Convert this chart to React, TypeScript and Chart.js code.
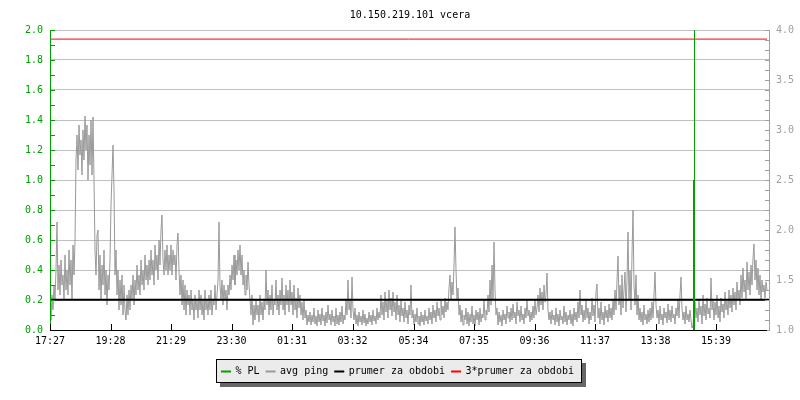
import React, { useEffect, useRef } from 'react';
import { Chart, registerables } from 'chart.js';

Chart.register(...registerables);

const chartTitle = '10.150.219.101 vcera';

// time axis (minutes after 17:27)
const timeTickLabels = ['17:27', '19:28', '21:29', '23:30', '01:31', '03:32', '05:34', '07:35', '09:36', '11:37', '13:38', '15:39'];
const timeTickMinutes = [0, 121, 242, 363, 484, 605, 727, 848, 969, 1090, 1211, 1332];
const xMaxMinutes = 1440;

// avg ping [ms], one sample every 2 minutes
const pingStepMinutes = 2;
const avgPingMs = [
  1.25, 1.10, 1.35, 1.20, 1.45, 1.30, 1.60, 2.08, 1.40, 1.65, 1.35, 1.70, 1.45, 1.55, 1.30, 1.75, 1.40, 1.60, 1.35, 1.80,
  1.45, 1.70, 1.30, 1.85, 1.55, 1.90, 2.70, 2.95, 2.60, 3.05, 2.75, 2.90, 2.55, 3.00, 2.70, 3.14, 2.80, 3.05, 2.50, 2.95,
  2.65, 3.10, 2.55, 3.13, 2.50, 1.80, 1.55, 1.95, 2.00, 1.40, 1.75, 1.30, 1.65, 1.45, 1.80, 1.35, 1.60, 1.25, 1.55, 1.40,
  1.70, 2.25, 2.55, 2.85, 2.40, 1.55, 1.80, 1.35, 1.60, 1.20, 1.50, 1.25, 1.55, 1.15, 1.45, 1.20, 1.10, 1.35, 1.15, 1.40,
  1.20, 1.45, 1.30, 1.55, 1.25, 1.50, 1.35, 1.65, 1.40, 1.55, 1.35, 1.70, 1.45, 1.60, 1.40, 1.75, 1.50, 1.65, 1.45, 1.70,
  1.50, 1.80, 1.55, 1.70, 1.45, 1.85, 1.60, 1.75, 1.50, 1.90, 1.65, 2.00, 2.15, 1.70, 1.55, 1.80, 1.60, 1.85, 1.55, 1.75,
  1.60, 1.85, 1.55, 1.80, 1.65, 1.75, 1.50, 1.85, 1.97, 1.60, 1.35, 1.55, 1.25, 1.50, 1.20, 1.45, 1.15, 1.40, 1.25, 1.35,
  1.15, 1.40, 1.20, 1.30, 1.10, 1.35, 1.20, 1.30, 1.12, 1.40, 1.20, 1.35, 1.15, 1.30, 1.10, 1.40, 1.20, 1.30, 1.15, 1.35,
  1.20, 1.40, 1.15, 1.30, 1.25, 1.45, 1.20, 1.35, 1.50, 2.08, 1.45, 1.30, 1.50, 1.25, 1.45, 1.30, 1.40, 1.20, 1.45, 1.35,
  1.55, 1.40, 1.65, 1.50, 1.75, 1.45, 1.70, 1.55, 1.80, 1.60, 1.85, 1.55, 1.75, 1.45, 1.60, 1.35, 1.55, 1.40, 1.68, 1.45,
  1.30, 1.15, 1.35, 1.05, 1.25, 1.10, 1.30, 1.15, 1.25, 1.08, 1.35, 1.15, 1.28, 1.10, 1.30, 1.20, 1.60, 1.25, 1.40, 1.15,
  1.35, 1.20, 1.45, 1.15, 1.30, 1.25, 1.50, 1.20, 1.35, 1.15, 1.40, 1.25, 1.52, 1.20, 1.35, 1.15, 1.45, 1.25, 1.40, 1.18,
  1.50, 1.25, 1.38, 1.15, 1.45, 1.20, 1.32, 1.12, 1.42, 1.22, 1.35, 1.15, 1.28, 1.10, 1.30, 1.12, 1.20, 1.05, 1.15, 1.08,
  1.18, 1.05, 1.15, 1.08, 1.22, 1.06, 1.14, 1.04, 1.20, 1.08, 1.16, 1.05, 1.22, 1.09, 1.15, 1.04, 1.18, 1.07, 1.25, 1.10,
  1.16, 1.05, 1.20, 1.08, 1.14, 1.04, 1.22, 1.06, 1.15, 1.05, 1.18, 1.08, 1.24, 1.06, 1.15, 1.10, 1.30, 1.15, 1.50, 1.20,
  1.30, 1.12, 1.53, 1.20, 1.10, 1.22, 1.06, 1.15, 1.04, 1.18, 1.08, 1.14, 1.05, 1.20, 1.07, 1.16, 1.04, 1.12, 1.06, 1.18,
  1.08, 1.15, 1.05, 1.20, 1.09, 1.14, 1.06, 1.22, 1.10, 1.18, 1.12, 1.35, 1.15, 1.28, 1.10, 1.38, 1.18, 1.30, 1.12, 1.40,
  1.20, 1.32, 1.14, 1.38, 1.18, 1.28, 1.10, 1.35, 1.15, 1.25, 1.08, 1.30, 1.14, 1.22, 1.08, 1.28, 1.12, 1.20, 1.06, 1.25,
  1.15, 1.45, 1.12, 1.20, 1.05, 1.16, 1.08, 1.22, 1.06, 1.14, 1.04, 1.18, 1.08, 1.15, 1.05, 1.20, 1.09, 1.14, 1.06, 1.22,
  1.10, 1.18, 1.06, 1.25, 1.12, 1.20, 1.08, 1.28, 1.14, 1.22, 1.10, 1.30, 1.15, 1.24, 1.12, 1.32, 1.18, 1.28, 1.20, 1.42,
  1.55, 1.30, 1.48, 1.35, 1.65, 2.03, 1.60, 1.30, 1.42, 1.15, 1.25, 1.08, 1.20, 1.05, 1.15, 1.10, 1.22, 1.06, 1.18, 1.04,
  1.16, 1.08, 1.24, 1.06, 1.15, 1.04, 1.20, 1.10, 1.18, 1.05, 1.22, 1.08, 1.16, 1.12, 1.30, 1.10, 1.20, 1.15, 1.35, 1.18,
  1.50, 1.25, 1.65, 1.30, 1.88, 1.40, 1.15, 1.22, 1.05, 1.18, 1.08, 1.15, 1.04, 1.20, 1.10, 1.16, 1.06, 1.24, 1.12, 1.18,
  1.08, 1.22, 1.10, 1.26, 1.12, 1.18, 1.06, 1.28, 1.14, 1.20, 1.08, 1.24, 1.10, 1.16, 1.06, 1.22, 1.12, 1.30, 1.14, 1.20,
  1.08, 1.18, 1.10, 1.24, 1.12, 1.30, 1.15, 1.22, 1.35, 1.18, 1.42, 1.25, 1.38, 1.20, 1.45, 1.28, 1.35, 1.57, 1.20, 1.10,
  1.18, 1.06, 1.20, 1.10, 1.15, 1.05, 1.22, 1.08, 1.16, 1.04, 1.20, 1.10, 1.14, 1.06, 1.24, 1.08, 1.18, 1.05, 1.15, 1.10,
  1.20, 1.06, 1.16, 1.04, 1.22, 1.10, 1.18, 1.08, 1.28, 1.12, 1.40, 1.15, 1.25, 1.08, 1.20, 1.10, 1.30, 1.12, 1.22, 1.06,
  1.18, 1.10, 1.32, 1.14, 1.25, 1.08, 1.38, 1.46, 1.12, 1.22, 1.06, 1.28, 1.10, 1.18, 1.05, 1.24, 1.12, 1.20, 1.08, 1.26,
  1.12, 1.22, 1.10, 1.30, 1.15, 1.40, 1.20, 1.50, 1.74, 1.25, 1.45, 1.15, 1.55, 1.22, 1.40, 1.58, 1.18, 1.50, 1.98, 1.30,
  1.60, 1.20, 1.75, 2.20, 1.45, 1.25, 1.55, 1.15, 1.35, 1.10, 1.22, 1.08, 1.18, 1.05, 1.25, 1.10, 1.16, 1.06, 1.20, 1.08,
  1.22, 1.10, 1.28, 1.12, 1.35, 1.58, 1.25, 1.12, 1.20, 1.06, 1.24, 1.10, 1.16, 1.05, 1.22, 1.12, 1.18, 1.07, 1.26, 1.10,
  1.20, 1.08, 1.24, 1.12, 1.16, 1.06, 1.22, 1.14, 1.30, 1.12, 1.35, 1.53, 1.22, 1.10, 1.18, 1.06, 1.24, 1.10, 1.16, 1.08,
  1.20, 1.10, 1.02, 1.05, 1.18, 1.28, 1.12, 1.22, 1.08, 1.30, 1.15, 1.24, 1.06, 1.35, 1.14, 1.26, 1.10, 1.32, 1.16, 1.22,
  1.12, 1.52, 1.20, 1.30, 1.10, 1.28, 1.15, 1.35, 1.12, 1.24, 1.08, 1.32, 1.18, 1.26, 1.12, 1.38, 1.20, 1.30, 1.15, 1.40,
  1.22, 1.35, 1.18, 1.42, 1.25, 1.38, 1.20, 1.48, 1.30, 1.40, 1.25, 1.55, 1.32, 1.62, 1.38, 1.50, 1.30, 1.68, 1.40, 1.58,
  1.35, 1.65, 1.45, 1.72, 1.86, 1.50, 1.70, 1.40, 1.62, 1.35, 1.55, 1.30, 1.50, 1.38, 1.45, 1.32, 1.48, 1.40,
];

// packet loss [%]
const plMinutes = [1288, 1288, 1289, 1289];
const plPercent = [0, 1.0, 1.0, 2.5];

const periodAvgMs = 1.303;
const tripleAvgMs = 3.909;

const seriesLabels = ['% PL', 'avg ping', 'prumer za obdobi', '3*prumer za obdobi'];
const seriesColors = ['#00A000', '#999999', '#000000', '#FF0000'];

const leftTicks = { min: 0, max: 2, step: 0.2, minor: 0.1 };
const rightTicks = { min: 1, max: 4, step: 0.5, minor: 0.1 };

const MONO = "'DejaVu Sans Mono', 'Liberation Mono', monospace";

const decorPlugin = {
  id: 'decor',
  afterDatasetsDraw(chart: any) {
    const { ctx, chartArea, scales } = chart;
    const { left, right, top, bottom } = chartArea;
    ctx.save();
    ctx.lineWidth = 1;
    const seg = (x1: number, y1: number, x2: number, y2: number) => {
      ctx.beginPath();
      ctx.moveTo(x1, y1);
      ctx.lineTo(x2, y2);
      ctx.stroke();
    };
    // left axis
    ctx.strokeStyle = seriesColors[0];
    seg(left + 0.5, top, left + 0.5, bottom + 1);
    const nL = Math.round((leftTicks.max - leftTicks.min) / leftTicks.minor);
    for (let i = 0; i <= nL; i++) {
      const y = Math.round(scales.y.getPixelForValue(leftTicks.min + i * leftTicks.minor)) + 0.5;
      seg(left, y, left + 5, y);
    }
    // right axis
    ctx.strokeStyle = '#A0A0A0';
    seg(right - 0.5, top, right - 0.5, bottom + 1);
    const nR = Math.round((rightTicks.max - rightTicks.min) / rightTicks.minor);
    for (let i = 0; i <= nR; i++) {
      const y = Math.round(scales.y1.getPixelForValue(rightTicks.min + i * rightTicks.minor)) + 0.5;
      seg(right - 5, y, right, y);
    }
    // bottom axis
    ctx.strokeStyle = '#000000';
    seg(left, bottom + 0.5, right - 3, bottom + 0.5);
    for (const m of timeTickMinutes) {
      const x = Math.round(scales.x.getPixelForValue(m)) + 0.5;
      seg(x, bottom - 6, x, bottom);
    }
    ctx.restore();
  },
  afterDraw(chart: any) {
    const { ctx, chartArea } = chart;
    ctx.save();
    // title
    ctx.font = `10px ${MONO}`;
    ctx.fillStyle = '#000000';
    ctx.textAlign = 'center';
    ctx.textBaseline = 'alphabetic';
    ctx.fillText(chartTitle, (chartArea.left + chartArea.right) / 2, 18);

    // legend
    const dashLen = 10, dashGap = 4.5, itemGap = 6, padL = 5, padR = 8;
    const widths = seriesLabels.map((t) => ctx.measureText(t).width);
    let content = 0;
    widths.forEach((w, i) => {
      content += dashLen + dashGap + w + (i < widths.length - 1 ? itemGap : 0);
    });
    const boxW = Math.round(content + padL + padR);
    const boxH = 24;
    const boxX = Math.round(399 - boxW / 2);
    const boxY = 359;
    ctx.fillStyle = '#666666';
    ctx.fillRect(boxX + 4, boxY + 4, boxW, boxH);
    ctx.fillStyle = '#EBEBEB';
    ctx.fillRect(boxX, boxY, boxW, boxH);
    ctx.strokeStyle = '#000000';
    ctx.lineWidth = 1;
    ctx.strokeRect(boxX + 0.5, boxY + 0.5, boxW - 1, boxH - 1);
    let x = boxX + padL;
    const cy = boxY + 12.5;
    ctx.textAlign = 'left';
    ctx.textBaseline = 'middle';
    seriesLabels.forEach((label, i) => {
      ctx.fillStyle = seriesColors[i];
      ctx.fillRect(x, cy - 1, dashLen, 2);
      x += dashLen + dashGap;
      ctx.fillStyle = '#000000';
      ctx.fillText(label, x, cy);
      x += widths[i] + itemGap;
    });
    ctx.restore();
  },
};

export default function App() {
  const ref = useRef<HTMLCanvasElement>(null);
  useEffect(() => {
    const canvas = ref.current;
    if (!canvas) return;
    const pingData = avgPingMs.map((v, i) => ({ x: i * pingStepMinutes, y: v }));
    const plData = plPercent.map((v, i) => ({ x: plMinutes[i], y: v }));
    const chart = new Chart(canvas, {
      type: 'line',
      data: {
        datasets: [
          {
            label: seriesLabels[0],
            data: plData,
            yAxisID: 'y',
            borderColor: seriesColors[0],
            borderWidth: 2,
            pointRadius: 0,
            order: 0,
            segment: { borderWidth: (c: any) => (c.p0DataIndex === 0 ? 2 : 1) },
          } as any,
          {
            label: seriesLabels[1],
            data: pingData,
            yAxisID: 'y1',
            borderColor: seriesColors[1],
            borderWidth: 1,
            pointRadius: 0,
            order: 3,
          },
          {
            label: seriesLabels[2],
            data: [
              { x: 0, y: periodAvgMs },
              { x: xMaxMinutes, y: periodAvgMs },
            ],
            yAxisID: 'y1',
            borderColor: seriesColors[2],
            borderWidth: 2,
            pointRadius: 0,
            order: 2,
          },
          {
            label: seriesLabels[3],
            data: [
              { x: 0, y: tripleAvgMs },
              { x: xMaxMinutes - 6, y: tripleAvgMs },
            ],
            yAxisID: 'y1',
            borderColor: seriesColors[3],
            borderWidth: 1,
            pointRadius: 0,
            order: 1,
          },
        ],
      },
      options: {
        responsive: false,
        animation: false,
        events: [],
        layout: { padding: { top: 30, bottom: 50, left: 0, right: 0 } },
        plugins: { legend: { display: false }, tooltip: { enabled: false }, title: { display: false } },
        scales: {
          x: {
            type: 'linear',
            min: 0,
            max: xMaxMinutes,
            grid: { display: false, drawTicks: false },
            border: { display: false },
            afterBuildTicks: (scale: any) => {
              scale.ticks = timeTickMinutes.map((v) => ({ value: v }));
            },
            afterFit: (scale: any) => {
              scale.height = 20;
            },
            ticks: {
              autoSkip: false,
              maxRotation: 0,
              minRotation: 0,
              padding: 5,
              color: '#000000',
              font: { family: MONO, size: 10 },
              callback: (_v: any, i: number) => timeTickLabels[i],
            },
          },
          y: {
            type: 'linear',
            position: 'left',
            min: leftTicks.min,
            max: leftTicks.max,
            grid: {
              drawTicks: false,
              color: (c: any) => (c.tick && c.tick.value === 0 ? 'rgba(0,0,0,0)' : '#C0C0C0'),
              lineWidth: 1,
            },
            border: { display: false },
            afterFit: (scale: any) => {
              scale.width = 50;
            },
            ticks: {
              stepSize: leftTicks.step,
              padding: 7,
              color: seriesColors[0],
              font: { family: MONO, size: 10 },
              callback: (v: any) => Number(v).toFixed(1),
            },
          },
          y1: {
            type: 'linear',
            position: 'right',
            min: rightTicks.min,
            max: rightTicks.max,
            grid: { display: false, drawTicks: false },
            border: { display: false },
            afterFit: (scale: any) => {
              scale.width = 30;
            },
            ticks: {
              stepSize: rightTicks.step,
              padding: 6,
              color: '#A0A0A0',
              font: { family: MONO, size: 10 },
              callback: (v: any) => Number(v).toFixed(1),
            },
          },
        },
      },
      plugins: [decorPlugin],
    });
    return () => chart.destroy();
  }, []);
  return (
    <div style={{ position: 'absolute', left: 0, top: 0, width: 800, height: 400, background: '#ffffff' }}>
      <canvas ref={ref} width={800} height={400} style={{ display: 'block' }} />
    </div>
  );
}
